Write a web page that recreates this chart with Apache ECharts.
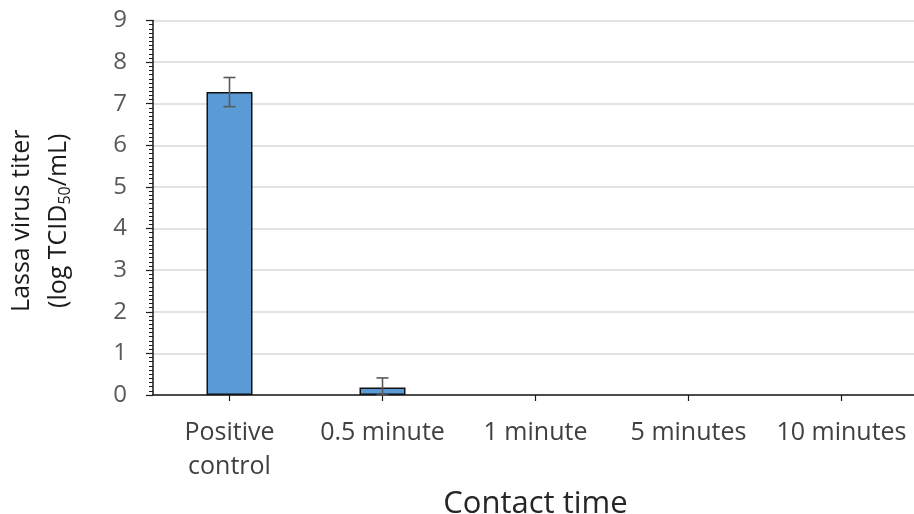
<!DOCTYPE html>
<html>
<head>
<meta charset="utf-8">
<script src="https://cdn.jsdelivr.net/npm/echarts@6/dist/echarts.min.js"></script>
<style>html,body{margin:0;padding:0;background:#fff}#c{width:914px;height:514px}</style>
</head>
<body>
<div id="c"></div>
<script>
const categories = ['Positive\ncontrol', '0.5 minute', '1 minute', '5 minutes', '10 minutes'];
const titerValues = [7.28, 0.18, 0, 0, 0];
const titerErrors = [0.35, 0.23, 0, 0, 0];
const yTicks = [0, 1, 2, 3, 4, 5, 6, 7, 8, 9];

const FONT = '"Open Sans", "Noto Sans", sans-serif';
const chart = echarts.init(document.getElementById('c'), null, {renderer: 'canvas'});

const errData = categories.map((c, i) => [i, Math.max(0, titerValues[i] - titerErrors[i]), titerValues[i] + titerErrors[i], titerErrors[i]]);
const barData = titerValues.map(v => v === 0 ? {value: v, itemStyle: {borderWidth: 0, opacity: 0}} : v);

chart.setOption({
  animation: false,
  backgroundColor: '#fff',
  grid: {left: 153, top: 20.5, width: 765, bottom: 119, containLabel: false, outerBoundsMode: 'none'},
  xAxis: {
    type: 'category',
    data: categories,
    boundaryGap: true,
    name: 'Contact time',
    nameLocation: 'middle',
    nameGap: 80,
    nameTextStyle: {fontFamily: FONT, fontSize: 31, color: '#262626'},
    axisLine: {lineStyle: {color: '#1a1a1a', width: 1.5}},
    axisTick: {show: true, alignWithLabel: true, length: 6, lineStyle: {color: '#1a1a1a', width: 1.2}},
    axisLabel: {fontFamily: FONT, fontSize: 25, color: '#404040', margin: 21, lineHeight: 34, interval: 0}
  },
  yAxis: {
    type: 'value',
    min: 0, max: 9, interval: 1,
    name: '{a|Lassa virus titer}\n{a|(log TCID}{s|50}{a|/mL)}',
    nameLocation: 'middle',
    nameRotate: 90,
    nameGap: 76,
    nameTextStyle: {
      fontFamily: FONT, color: '#1a1a1a', lineHeight: 37, padding: [0, 26, 0, 0],
      rich: {
        a: {fontFamily: FONT, fontSize: 25, color: '#1a1a1a', lineHeight: 37},
        s: {fontFamily: FONT, fontSize: 16, color: '#1a1a1a', lineHeight: 37, padding: [14, 0, 0, 0]}
      }
    },
    axisLine: {show: true, lineStyle: {color: '#1a1a1a', width: 1.5}},
    axisTick: {show: true, length: 7, lineStyle: {color: '#1a1a1a', width: 1.2}},
    minorTick: {show: true, splitNumber: 10, length: 4, lineStyle: {color: '#1a1a1a', width: 1}},
    axisLabel: {fontFamily: FONT, fontSize: 24, color: '#595959', margin: 26,
      formatter: v => yTicks.includes(v) ? String(v) : ''},
    splitLine: {show: true, lineStyle: {color: '#d9d9d9', width: 1.5}}
  },
  series: [
    {
      type: 'bar',
      data: barData,
      barWidth: 46,
      itemStyle: {color: '#5b9bd5', borderColor: '#111', borderWidth: 1.5},
      z: 2
    },
    {
      type: 'custom',
      data: errData,
      z: 3,
      renderItem: function (params, api) {
        if (api.value(3) === 0) return null;
        const x = api.value(0);
        const lo = api.coord([x, api.value(1)]);
        const hi = api.coord([x, api.value(2)]);
        const hw = 6;
        const style = {stroke: '#595959', lineWidth: 1.6};
        return {
          type: 'group',
          children: [
            {type: 'line', shape: {x1: hi[0], y1: hi[1], x2: lo[0], y2: lo[1]}, style: style},
            {type: 'line', shape: {x1: hi[0] - hw, y1: hi[1], x2: hi[0] + hw, y2: hi[1]}, style: style},
            {type: 'line', shape: {x1: lo[0] - hw, y1: lo[1], x2: lo[0] + hw, y2: lo[1]}, style: style}
          ]
        };
      }
    }
  ]
});
</script>
</body>
</html>
